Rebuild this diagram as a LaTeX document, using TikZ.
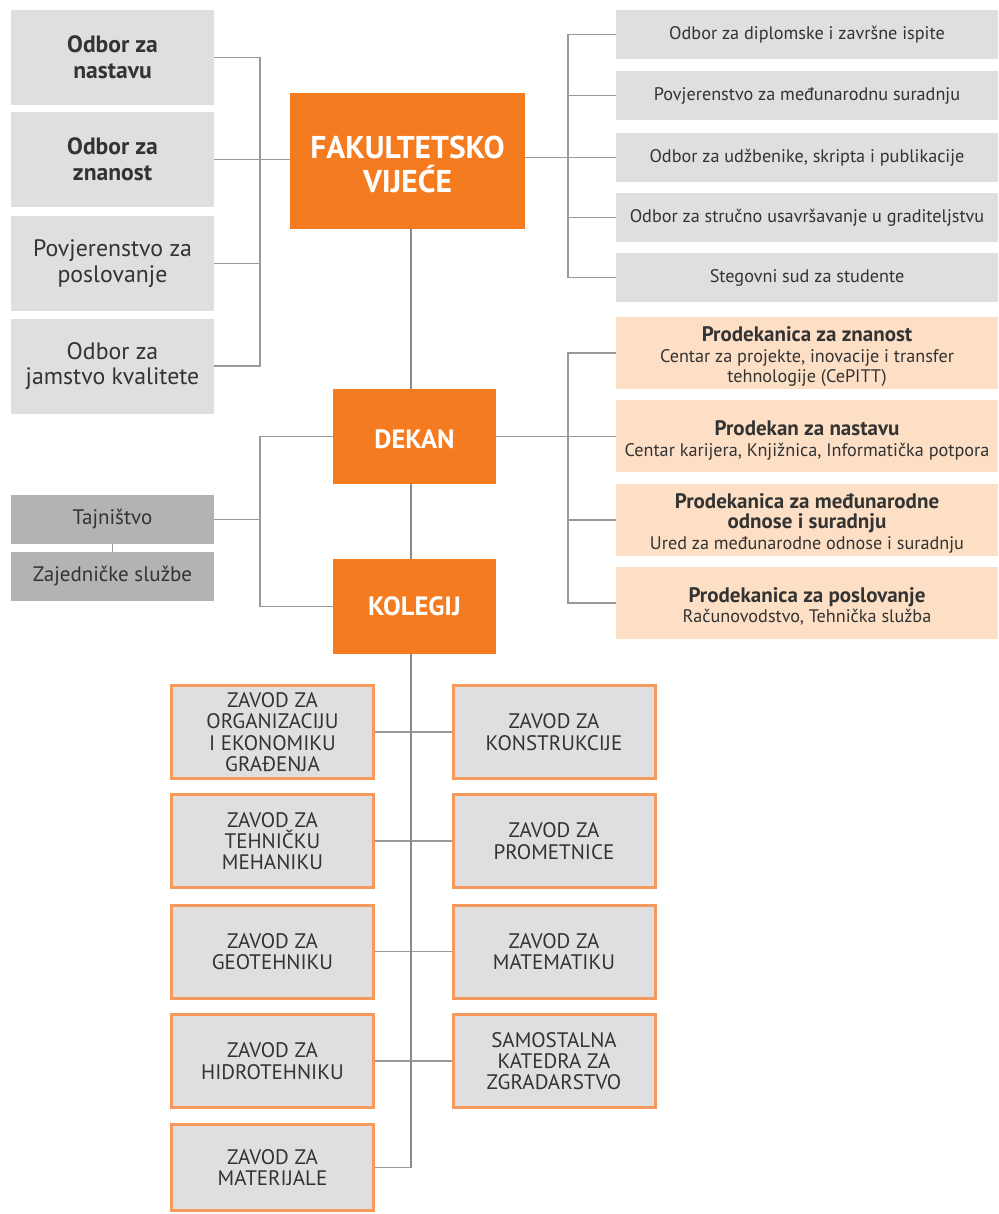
\documentclass[tikz,border=0pt]{standalone}
\usepackage{fontspec}
\setmainfont{PT Sans}
\usetikzlibrary{backgrounds}
\definecolor{boxgray}{HTML}{DFDFE1}
\definecolor{darkgray}{HTML}{B3B3B6}
\definecolor{orng}{HTML}{F47B20}
\definecolor{zorange}{HTML}{F69A5C}
\definecolor{peach}{HTML}{FDDFC5}
\definecolor{txt}{HTML}{333333}
\definecolor{linegray}{HTML}{999999}
\definecolor{maingray}{HTML}{8A8A8D}
\newcommand{\pb}[1]{\textbf{\fontsize{21}{22}\selectfont #1}}
\begin{document}
\begin{tikzpicture}[x=1pt,y=-1pt,
  every node/.style={inner sep=0pt, outer sep=0pt, align=center, text=txt},
  lbox/.style={fill=boxgray, minimum width=203pt, minimum height=95pt, font=\fontsize{23.8}{25.7}\selectfont},
  rbox/.style={fill=boxgray, minimum width=382pt, minimum height=49pt, font=\fontsize{18.2}{20}\selectfont},
  pbox/.style={fill=peach, minimum width=382pt, minimum height=72pt, font=\fontsize{18.2}{20.5}\selectfont},
  obox/.style={fill=orng, minimum width=163pt, minimum height=95pt, text=white, font=\fontsize{26.5}{30}\selectfont\bfseries},
  sbox/.style={fill=darkgray, minimum width=203pt, minimum height=49pt, font=\fontsize{21}{23}\selectfont},
  zbox/.style={fill=boxgray, draw=zorange, line width=3pt, minimum width=202pt, minimum height=93pt, font=\fontsize{21}{21.3}\selectfont},
  conn/.style={draw=linegray, line width=1.4pt},
  mainline/.style={draw=maingray, line width=2.6pt}]
\useasboundingbox (0,0) rectangle (998,1214);

% left column
\node[lbox, font=\fontsize{23.6}{25.7}\selectfont\bfseries] (L1) at (112.5,57.5) {Odbor za\\nastavu};
\node[lbox, font=\fontsize{23.6}{25.7}\selectfont\bfseries] (L2) at (112.5,159.5) {Odbor za\\znanost};
\node[lbox] (L3) at (112.5,263.5) {Povjerenstvo za\\poslovanje};
\node[lbox] (L4) at (112.5,366) {Odbor za\\jamstvo kvalitete};

% main boxes
\node[obox, minimum width=235pt, minimum height=136pt, text height=64pt, font=\fontsize{31.5}{34}\selectfont\bfseries] (fv) at (407.5,161) {FAKULTETSKO\\VIJEĆE};
\node[obox, text height=25pt] (dek) at (414.5,436.5) {DEKAN};
\node[obox] (kol) at (414.5,606.5) {KOLEGIJ};

% right top
\node[rbox] (R1) at (807,34.5) {Odbor za diplomske i završne ispite};
\node[rbox] (R2) at (807,95.5) {Povjerenstvo za međunarodnu suradnju};
\node[rbox] (R3) at (807,157.5) {Odbor za udžbenike, skripta i publikacije};
\node[rbox] (R4) at (807,217.5) {Odbor za stručno usavršavanje u graditeljstvu};
\node[rbox] (R5) at (807,277.5) {Stegovni sud za studente};

% prodekani
\node[pbox, text height=64pt] (P1) at (807,353) {\pb{Prodekanica za znanost}\\Centar za projekte, inovacije i transfer\\tehnologije (CePITT)};
\node[pbox, text height=44pt] (P2) at (807,436) {\pb{Prodekan za nastavu}\\Centar karijera, Knjižnica, Informatička potpora};
\node[pbox, text height=62pt] (P3) at (807,520) {\pb{Prodekanica za međunarodne}\\\pb{odnose i suradnju}\\Ured za međunarodne odnose i suradnju};
\node[pbox, text height=42pt] (P4) at (807,603) {\pb{Prodekanica za poslovanje}\\Računovodstvo, Tehnička služba};

% tajnistvo
\node[sbox] (taj) at (112.5,519.5) {Tajništvo};
\node[sbox] (zaj) at (112.5,576.5) {Zajedničke službe};

% zavodi
\node[zbox] (Z1) at (272.5,732) {ZAVOD ZA\\ORGANIZACIJU\\I EKONOMIKU\\GRAĐENJA};
\node[zbox] (Z2) at (554,732) {ZAVOD ZA\\KONSTRUKCIJE};
\node[zbox] (Z3) at (272.5,841) {ZAVOD ZA\\TEHNIČKU\\MEHANIKU};
\node[zbox] (Z4) at (554,841) {ZAVOD ZA\\PROMETNICE};
\node[zbox] (Z5) at (272.5,951.5) {ZAVOD ZA\\GEOTEHNIKU};
\node[zbox] (Z6) at (554,951.5) {ZAVOD ZA\\MATEMATIKU};
\node[zbox] (Z7) at (272.5,1061) {ZAVOD ZA\\HIDROTEHNIKU};
\node[zbox] (Z8) at (554,1061) {SAMOSTALNA\\KATEDRA ZA\\ZGRADARSTVO};
\node[zbox, minimum height=86pt] (Z9) at (272.5,1167.5) {ZAVOD ZA\\MATERIJALE};

\coordinate (lb) at (260,0);
\coordinate (rb) at (568,0);
\coordinate (mv) at (411,0);

\begin{scope}[on background layer]
  \draw[conn] (L1.east) -- (L1.east -| lb) -- (L4.east -| lb) -- (L4.east);
  \draw[conn] (L2.east) -- (L2.east -| fv.west);
  \draw[conn] (L3.east) -- (L3.east -| lb);
  \draw[conn] (R1.west) -- (R1.west -| rb) -- (R5.west -| rb) -- (R5.west);
  \draw[conn] (R2.west) -- (R2.west -| rb);
  \draw[conn] (R4.west) -- (R4.west -| rb);
  \draw[conn] (fv.east |- R3.west) -- (R3.west);
  \draw[conn] (P1.west) -- (P1.west -| rb) -- (P4.west -| rb) -- (P4.west);
  \draw[conn] (P3.west) -- (P3.west -| rb);
  \draw[conn] (dek.east) -- (dek.east -| P2.west);
  \draw[conn] (dek.west) -- (dek.west -| lb) -- (kol.west -| lb) -- (kol.west);
  \draw[conn] (taj.east) -- (taj.east -| lb);
  \draw[conn] (taj.south) -- (zaj.north);
  \draw[conn] (Z1.east) -- (Z2.west);
  \draw[conn] (Z3.east) -- (Z4.west);
  \draw[conn] (Z5.east) -- (Z6.west);
  \draw[conn] (Z7.east) -- (Z8.west);
  \draw[conn] (Z9.east) -- (Z9.east -| mv);
  \draw[mainline] (fv.south -| mv) -- (Z9.east -| mv);
\end{scope}
\end{tikzpicture}
\end{document}
